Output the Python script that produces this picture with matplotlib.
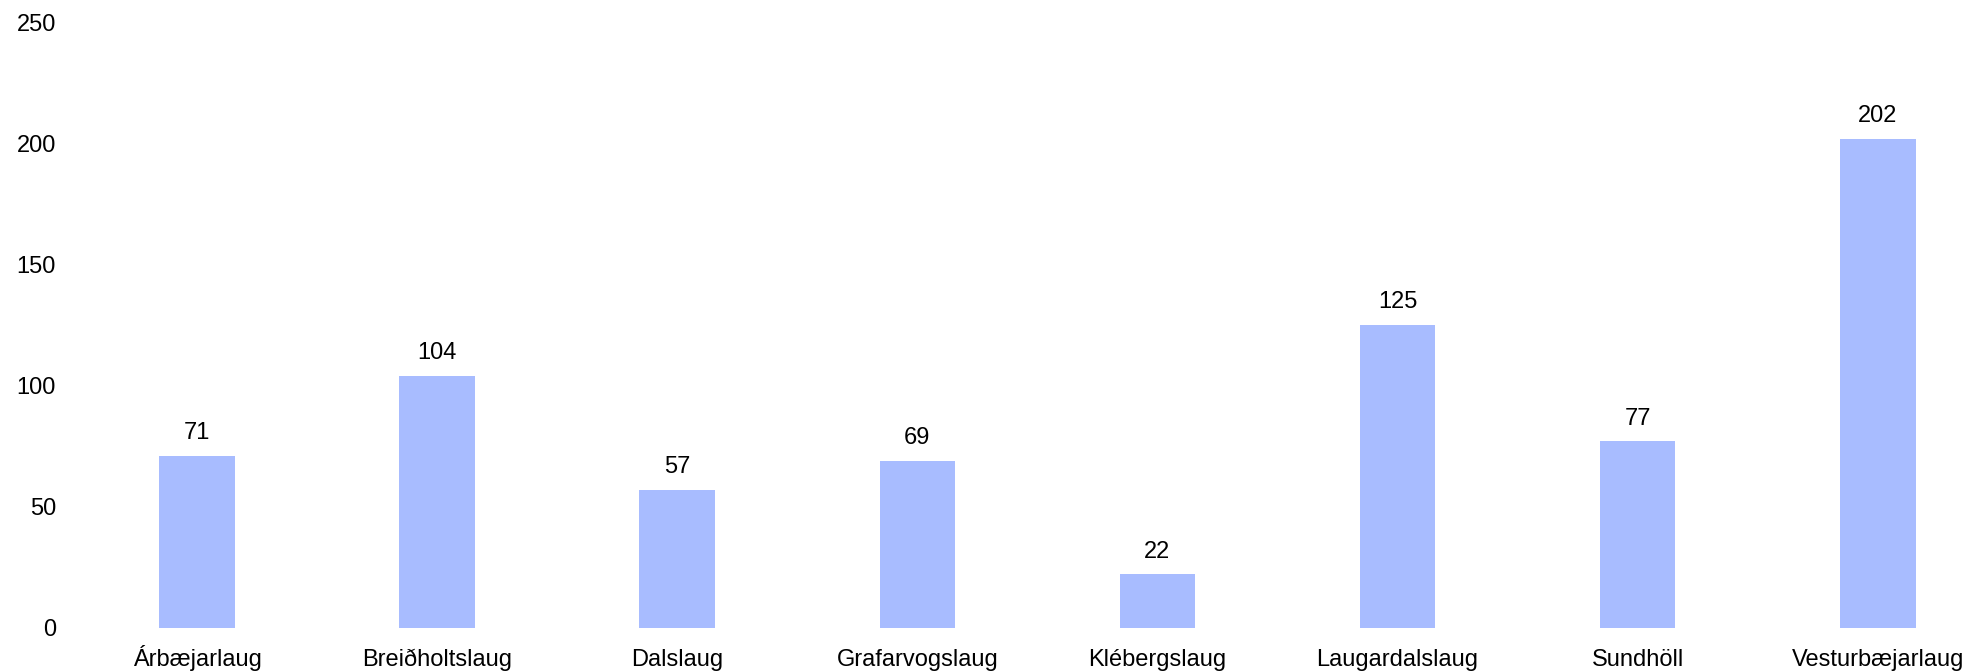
import matplotlib
matplotlib.use('Agg')
from matplotlib import pyplot as plt

# pool names and visitor counts
pools = ['Árbæjarlaug', 'Breiðholtslaug', 'Dalslaug', 'Grafarvogslaug',
         'Klébergslaug', 'Laugardalslaug', 'Sundhöll', 'Vesturbæjarlaug']
counts = [71, 104, 57, 69, 22, 125, 77, 202]
y_ticks = [0, 50, 100, 150, 200, 250]

plt.rcParams['font.family'] = ['Liberation Sans', 'DejaVu Sans']

fig = plt.figure(figsize=(19.75, 6.72), dpi=100)
ax = fig.add_axes([70 / 1975, 44.3 / 672, 1 - 70 / 1975, (627.7 - 22.6) / 672])

x = list(range(len(pools)))
bars = ax.bar(x, counts, width=0.315, color='#a8bcff')

for rect, val in zip(bars, counts):
    ax.annotate(str(val), (rect.get_x() + rect.get_width() / 2, val),
                xytext=(0, 8.5), textcoords='offset points',
                ha='center', va='bottom', fontsize=17)

ax.set_xlim(-0.529, 7.405)
ax.set_ylim(0, 250)
ax.set_xticks(x)
ax.set_xticklabels(pools, fontsize=17, va='baseline')
ax.set_yticks(y_ticks)
ax.set_yticklabels([str(t) for t in y_ticks], fontsize=17)
ax.tick_params(axis='x', length=0, pad=27.5)
ax.tick_params(axis='y', length=0, pad=10)
for side in ax.spines.values():
    side.set_visible(False)

fig.savefig('out.png', dpi=100)
